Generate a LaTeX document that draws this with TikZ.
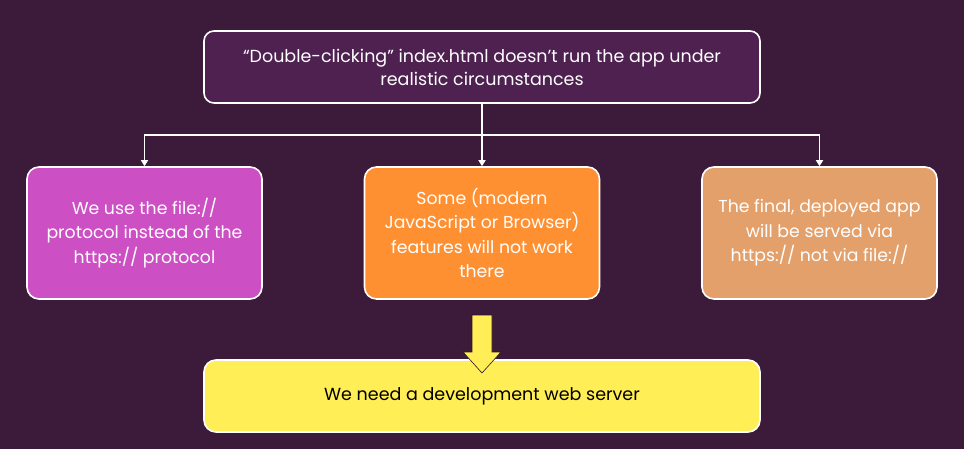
\documentclass[tikz,border=0pt]{standalone}
\usepackage{fontspec}
\setmainfont{Poppins}
\usetikzlibrary{arrows.meta}
\definecolor{bgpurple}{RGB}{59,27,57}
\definecolor{toppurple}{RGB}{78,33,80}
\definecolor{boxpink}{RGB}{204,79,196}
\definecolor{boxorange}{RGB}{255,144,50}
\definecolor{boxtan}{RGB}{228,160,106}
\definecolor{boxyellow}{RGB}{255,238,85}
\definecolor{outline}{RGB}{40,18,38}
\tikzset{
  card/.style={draw=white, line width=1.6pt, rounded corners=12pt, align=center,
    inner sep=0pt, font=\fontsize{17.5}{23}\selectfont},
  wide/.style={card, minimum width=556pt, minimum height=72pt, text=white},
  tile/.style={card, minimum width=235pt, minimum height=132pt, text=white,
    font=\fontsize{17.3}{24.5}\selectfont},
  link/.style={draw=white, line width=1.6pt, -{Triangle[width=7pt,length=6pt]}},
}
\begin{document}
\begin{tikzpicture}[x=1pt,y=-1pt]
  \fill[bgpurple] (0,0) rectangle (964,449);
  \useasboundingbox (0,0) rectangle (964,449);

  \node[wide, fill=toppurple, rounded corners=10pt] (cause) at (482,67)
    {“Double-clicking” index.html doesn’t run the app under\\realistic circumstances};

  \node[tile, fill=boxpink] (fileproto) at (144.5,233)
    {We use the file://\\protocol instead of the\\https:// protocol};
  \node[tile, fill=boxorange] (features) at (482,233)
    {Some (modern\\JavaScript or Browser)\\features will not work\\there};
  \node[tile, fill=boxtan] (deployed) at (819.5,233)
    {The final, deployed app\\will be served via\\https:// not via file://};

  \node[wide, fill=boxyellow, text=black] (server) at (482,396)
    {We need a development web server};

  % branching connectors
  \coordinate (bus) at (482,135);
  \draw[line width=1.6pt, white] (cause.south) -- (bus);
  \draw[link] (bus) -| (fileproto.north);
  \draw[link] (bus) -| (deployed.north);
  \draw[link] (bus) -- (features.north);

  % block arrow from the middle box down into the server box
  \coordinate (tip) at (482,373);
  \filldraw[fill=boxyellow, draw=outline, line width=0.6pt, shift={(tip)}]
    (0,0) -- (-19,-21) -- (-10,-21) -- (-10,-58) -- (10,-58) -- (10,-21) -- (19,-21) -- cycle;
\end{tikzpicture}
\end{document}
